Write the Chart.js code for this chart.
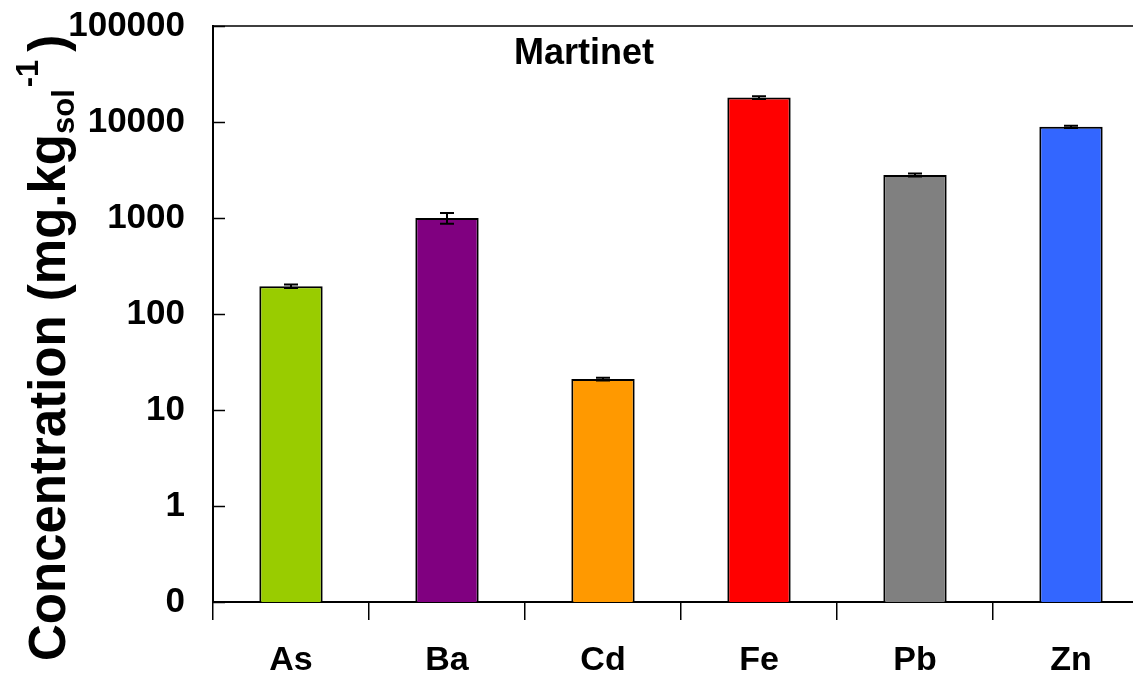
<!DOCTYPE html>
<html>
<head>
<meta charset="utf-8">
<script src="https://cdn.jsdelivr.net/npm/chart.js@4/dist/chart.umd.min.js"></script>
<style>
    html, body { margin: 0; padding: 0; background: #fff; overflow: hidden; }
    #wrap { width: 1160px; height: 699px; margin-top: -23px; }
</style>
</head>
<body>
<div id="wrap"><canvas id="concChart" width="1160" height="699"></canvas></div>
<script>
// chart values
const elements = ['As', 'Ba', 'Cd', 'Fe', 'Pb', 'Zn'];
const concentrations = [195, 1000, 21, 18000, 2800, 8900];
const errors = [8, 130, 0.7, 600, 100, 250];
const barColors = ['#99CC00', '#800080', '#FF9900', '#FF0000', '#808080', '#3366FF'];
const yTickValues = [0.1, 1, 10, 100, 1000, 10000, 100000];
const yTickLabels = ['0', '1', '10', '100', '1000', '10000', '100000'];
const siteName = 'Martinet';

const fontFamily = '"Liberation Sans", Arial, sans-serif';
const shift = 23; // canvas is pulled up by this much

// error bars, inward y ticks, top border, site label
const extrasPlugin = {
    id: 'extras',
    afterDatasetsDraw(chart) {
        const ctx = chart.ctx;
        const x = chart.scales.x;
        const y = chart.scales.y;
        const area = chart.chartArea;
        ctx.save();
        ctx.strokeStyle = '#000';
        ctx.lineWidth = 2;
        // error bars
        concentrations.forEach((v, i) => {
            const px = x.getPixelForValue(i);
            const top = y.getPixelForValue(v + errors[i]);
            const bot = y.getPixelForValue(v - errors[i]);
            ctx.beginPath();
            ctx.moveTo(px, top); ctx.lineTo(px, bot);
            ctx.moveTo(px - 7, top); ctx.lineTo(px + 7, top);
            ctx.moveTo(px - 7, bot); ctx.lineTo(px + 7, bot);
            ctx.stroke();
        });
        // y ticks pointing into the plot
        ctx.lineWidth = 1.5;
        yTickValues.forEach(v => {
            const py = Math.round(y.getPixelForValue(v)) + 0.5;
            ctx.beginPath();
            ctx.moveTo(area.left, py); ctx.lineTo(area.left + 12, py);
            ctx.stroke();
        });
        // frame top and right
        ctx.lineWidth = 1.5;
        ctx.beginPath();
        ctx.moveTo(area.left, area.top); ctx.lineTo(area.right, area.top);
        ctx.lineTo(area.right, area.bottom);
        ctx.stroke();
        // site name
        ctx.fillStyle = '#000';
        ctx.font = 'bold 36px ' + fontFamily;
        ctx.textAlign = 'left';
        ctx.textBaseline = 'middle';
        ctx.fillText(siteName, 514, 54 + shift);
        ctx.restore();
    },
    afterDraw(chart) {
        // y axis title with sub/superscript
        const ctx = chart.ctx;
        ctx.save();
        ctx.translate(65, 661 + shift);
        ctx.rotate(-Math.PI / 2);
        ctx.fillStyle = '#000';
        ctx.textAlign = 'left';
        ctx.textBaseline = 'alphabetic';
        let pos = 0;
        ctx.font = 'bold 51px ' + fontFamily;
        const main = 'Concentration (mg.kg';
        ctx.fillText(main, pos, 0);
        pos += ctx.measureText(main).width;
        ctx.font = 'bold 31px ' + fontFamily;
        ctx.fillText('sol', pos, 9);
        pos += ctx.measureText('sol').width + 2;
        ctx.fillText('-1', pos, -27);
        pos += ctx.measureText('-1').width + 8;
        ctx.font = 'bold 51px ' + fontFamily;
        ctx.fillText(')', pos, 0);
        ctx.restore();
    }
};

const ctx = document.getElementById('concChart').getContext('2d');
const chart = new Chart(ctx, {
    type: 'bar',
    data: {
        labels: elements,
        datasets: [{
            data: concentrations,
            backgroundColor: barColors,
            borderColor: '#000',
            borderWidth: 2,
            borderSkipped: 'bottom',
            barPercentage: 0.406,
            categoryPercentage: 1
        }]
    },
    options: {
        responsive: false,
        animation: false,
        layout: { padding: { left: 0, top: 2, right: 11, bottom: 0 } },
        plugins: {
            legend: { display: false },
            tooltip: { enabled: false }
        },
        scales: {
            x: {
                offset: true,
                grid: {
                    offset: true,
                    drawOnChartArea: false,
                    tickLength: 18,
                    color: '#000',
                    lineWidth: 1.5
                },
                border: { display: true, color: '#000', width: 2 },
                ticks: {
                    color: '#000',
                    padding: 20,
                    font: { family: fontFamily, size: 34, weight: 'bold' }
                },
                afterFit(scale) { scale.height = 74; }
            },
            y: {
                type: 'logarithmic',
                min: 0.1,
                max: 100000,
                grid: { display: false, drawTicks: false },
                border: { display: true, color: '#000', width: 2 },
                afterBuildTicks(scale) {
                    scale.ticks = yTickValues.map(v => ({ value: v }));
                },
                ticks: {
                    color: '#000',
                    padding: 28,
                    autoSkip: false,
                    font: { family: fontFamily, size: 35, weight: 'bold' },
                    callback: (value, index) => yTickLabels[index]
                },
                afterFit(scale) { scale.width = 213; }
            }
        }
    },
    plugins: [extrasPlugin]
});
</script>
</body>
</html>
